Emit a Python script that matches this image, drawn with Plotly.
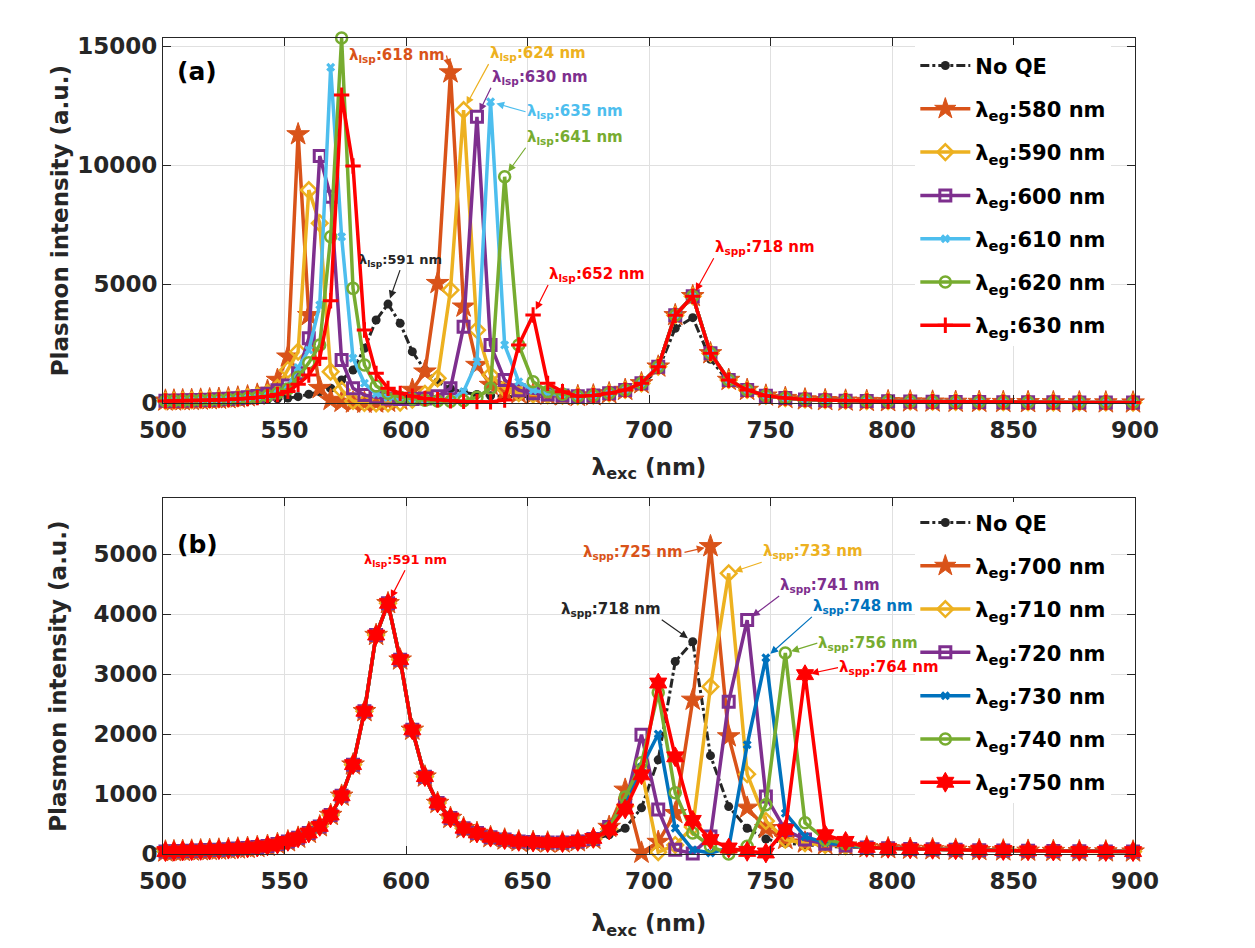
import plotly.graph_objects as go

# excitation wavelength grid (nm)
wl = [501.0, 504.5, 508.1, 511.8, 515.5, 519.2, 523.0, 526.9, 530.8, 534.8,
      538.8, 543.0, 547.1, 551.4, 555.6, 560.0, 564.5, 569.0, 573.5, 578.2,
      582.9, 587.7, 592.6, 597.6, 602.6, 607.8, 613.0, 618.3, 623.7, 629.2,
      634.8, 640.6, 646.4, 652.3, 658.3, 664.4, 670.7, 677.1, 683.6, 690.2,
      696.9, 703.8, 710.8, 718.0, 725.3, 732.8, 740.4, 748.1, 756.1, 764.2,
      772.5, 780.9, 789.6, 798.4, 807.5, 816.7, 826.2, 835.9, 845.8, 856.0,
      866.4, 877.1, 888.0, 899.2]

# ---- panel (a): QE tuned around the LSP resonance ----
a_noqe = [60, 65, 70, 75, 80, 88, 95, 105, 115, 130, 145,
          165, 190, 220, 280, 380, 480, 630, 980, 1400, 2310, 3500, 4170, 3360, 2170,
          1400, 900, 620, 460, 370, 320, 290, 280, 280, 290, 300,
          290, 320, 400, 540, 800, 1400, 3150, 3600, 1850, 900, 520, 300, 210, 150,
          120, 100, 88, 78, 70, 62, 56, 50, 46, 42, 38, 35, 32, 30]

# common SPP part (670-900 nm), same for every QE case
a_tail = [300, 330, 420, 560, 840, 1540, 3700, 4500, 2100, 980, 560, 320, 220, 160,
          130, 110, 95, 85, 75, 68, 60, 55, 50, 45, 42, 38, 35, 32]

a_580 = [110, 115, 125, 135, 150, 165, 185, 210, 240, 290, 360,
         520, 980, 1960, 11300, 3700, 640, 140, 60, 30, 20, 30, 60, 150, 560,
         1330, 5050, 13900, 4060, 1610, 770, 500, 420, 380, 360, 330] + a_tail
a_590 = [105, 110, 118, 128, 140, 155, 170, 190, 220, 260, 320,
         430, 650, 1400, 2170, 8960, 7570, 1330, 560, 100, 20, 0, 0, 30, 150,
         400, 1050, 4760, 12320, 3080, 1190, 620, 430, 370, 340, 320] + a_tail
a_600 = [105, 110, 118, 128, 140, 152, 168, 188, 215, 255, 310,
         400, 550, 750, 1260, 2730, 10390, 8680, 1820, 630, 350, 250, 200, 180, 180,
         200, 300, 630, 3220, 12040, 2450, 980, 550, 420, 370, 330] + a_tail
a_610 = [100, 105, 112, 120, 130, 142, 156, 175, 200, 235, 280,
         350, 480, 700, 1500, 2240, 4130, 14120, 7000, 1890, 840, 400, 250, 180, 140,
         120, 110, 130, 500, 1750, 12670, 2450, 910, 550, 420, 350] + a_tail
a_620 = [100, 104, 110, 118, 127, 138, 150, 168, 190, 220, 260,
         320, 420, 600, 1100, 1700, 2450, 7000, 15350, 4830, 1610, 730, 420, 260, 180,
         130, 100, 90, 110, 250, 630, 9520, 2450, 910, 500, 380] + a_tail
a_630 = [95, 100, 105, 112, 120, 130, 142, 158, 178, 205, 240,
         290, 370, 500, 800, 1190, 1890, 4310, 12950, 9970, 3080, 1260, 630, 420, 300,
         200, 150, 110, 80, 70, 60, 140, 2450, 3710, 840, 490] + a_tail

# ---- panel (b): QE tuned around the SPP resonance ----
# common LSP part (500-665 nm)
b_lsp = [40, 45, 50, 55, 60, 65, 72, 80, 90, 100, 115,
         135, 165, 210, 270, 350, 460, 650, 970, 1490, 2380, 3650, 4180, 3240, 2070,
         1290, 850, 600, 430, 350, 280, 240, 210, 200, 190, 190]
b_tail = [110, 95, 85, 78, 70, 64, 58, 53, 49, 45, 42, 40]

b_noqe = b_lsp + [200, 240, 320, 430, 770, 1570, 3210, 3540, 1640, 790, 430, 250,
                  180, 150, 130, 115] + b_tail
b_700 = b_lsp + [210, 250, 450, 1070, 20, 200, 680, 2570, 5130, 1960, 770, 430,
                 250, 190, 160, 140] + b_tail
b_710 = b_lsp + [210, 250, 420, 800, 1400, 30, 150, 450, 2790, 4680, 1330, 550,
                 240, 180, 150, 130] + b_tail
b_720 = b_lsp + [210, 250, 450, 800, 1990, 740, 70, 10, 290, 2540, 3900, 960,
                 400, 240, 170, 140] + b_tail
b_730 = b_lsp + [210, 250, 430, 800, 1450, 2000, 430, 70, 15, 100, 1820, 3270,
                 680, 290, 190, 150] + b_tail
b_740 = b_lsp + [210, 250, 430, 950, 1520, 2690, 1020, 350, 130, 0, 130, 820,
                 3350, 520, 240, 170] + b_tail
b_750 = b_lsp + [210, 260, 400, 750, 1320, 2850, 1620, 560, 240, 100, 44, 17,
                 405, 2990, 320, 210] + b_tail

FONT = "DejaVu Sans"
BLACK = "#262626"
ORANGE = "#D95319"
YELLOW = "#EDB120"
PURPLE = "#7E2F8E"
SKY = "#4DBEEE"
GREEN = "#77AC30"
RED = "#FF0000"
BLUE = "#0072BD"

fig = go.Figure()


def curve(y, name, color, symbol, size, xa, ya, leg, dash="solid", mlw=0):
    fig.add_trace(go.Scatter(
        x=wl, y=y, name=name, mode="lines+markers",
        line=dict(color=color, width=3 if dash != "solid" else 3.5, dash=dash),
        marker=dict(symbol=symbol, size=size, color=color,
                    line=dict(color=color, width=mlw)),
        xaxis=xa, yaxis=ya, legend=leg, legendgroup=leg + name,
        cliponaxis=False))


def eg(v):
    return "λ<sub>eg</sub>:%d nm" % v


curve(a_noqe, "No QE", BLACK, "circle", 9, "x", "y", "legend", dash="dashdot")
curve(a_580, eg(580), ORANGE, "star", 17, "x", "y", "legend", mlw=1)
curve(a_590, eg(590), YELLOW, "diamond-open", 12, "x", "y", "legend", mlw=2.5)
curve(a_600, eg(600), PURPLE, "square-open", 11, "x", "y", "legend", mlw=3)
curve(a_610, eg(610), SKY, "x", 8, "x", "y", "legend")
curve(a_620, eg(620), GREEN, "circle-open", 11, "x", "y", "legend", mlw=2.5)
curve(a_630, eg(630), RED, "cross-thin-open", 11, "x", "y", "legend", mlw=3)

curve(b_noqe, "No QE", BLACK, "circle", 9, "x2", "y2", "legend2", dash="dashdot")
curve(b_700, eg(700), ORANGE, "star", 17, "x2", "y2", "legend2", mlw=1)
curve(b_710, eg(710), YELLOW, "diamond-open", 12, "x2", "y2", "legend2", mlw=2.5)
curve(b_720, eg(720), PURPLE, "square-open", 11, "x2", "y2", "legend2", mlw=3)
curve(b_730, eg(730), BLUE, "x", 8, "x2", "y2", "legend2")
curve(b_740, eg(740), GREEN, "circle-open", 11, "x2", "y2", "legend2", mlw=2.5)
curve(b_750, eg(750), RED, "hexagram", 15, "x2", "y2", "legend2", mlw=1)

# peak labels: (text, series, index, colour, axes, ax, ay, xanchor, yanchor, size)
peak_notes = [
    ("λ<sub>lsp</sub>:618 nm", a_580, 27, ORANGE, "", -4, -17, "right", "middle", 15),
    ("λ<sub>lsp</sub>:624 nm", a_590, 28, YELLOW, "", 25, -46, "left", "bottom", 15),
    ("λ<sub>lsp</sub>:630 nm", a_600, 29, PURPLE, "", 14, -29, "left", "bottom", 15),
    ("λ<sub>lsp</sub>:635 nm", a_610, 30, SKY, "", 35, 10, "left", "middle", 15),
    ("λ<sub>lsp</sub>:641 nm", a_620, 31, GREEN, "", 21, -29, "left", "bottom", 15),
    ("λ<sub>lsp</sub>:591 nm", a_noqe, 22, BLACK, "", 12, -34, "center", "bottom", 13),
    ("λ<sub>lsp</sub>:652 nm", a_630, 33, RED, "", 15, -30, "left", "bottom", 15),
    ("λ<sub>spp</sub>:718 nm", a_630, 43, RED, "", 21, -38, "left", "bottom", 15),
    ("λ<sub>lsp</sub>:591 nm", b_750, 22, RED, "2", 17, -33, "center", "bottom", 13),
    ("λ<sub>spp</sub>:725 nm", b_700, 44, ORANGE, "2", -26, 6, "right", "middle", 15),
    ("λ<sub>spp</sub>:733 nm", b_710, 45, YELLOW, "2", 33, -11, "left", "bottom", 15),
    ("λ<sub>spp</sub>:741 nm", b_720, 46, PURPLE, "2", 32, -24, "left", "bottom", 15),
    ("λ<sub>spp</sub>:748 nm", b_730, 47, BLUE, "2", 46, -41, "left", "bottom", 15),
    ("λ<sub>spp</sub>:756 nm", b_740, 48, GREEN, "2", 32, -10, "left", "middle", 15),
    ("λ<sub>spp</sub>:764 nm", b_750, 49, RED, "2", 33, -7, "left", "middle", 15),
    ("λ<sub>spp</sub>:718 nm", b_noqe, 43, BLACK, "2", -31, -22, "right", "bottom", 15),
]

for text, ser, i, col, n, ax, ay, xan, yan, fs in peak_notes:
    fig.add_annotation(
        x=wl[i], y=ser[i], xref="x" + n, yref="y" + n, text=text,
        showarrow=True, ax=ax, ay=ay, xanchor=xan, yanchor=yan,
        arrowhead=2, arrowsize=1.3, arrowwidth=1.2, arrowcolor=col, standoff=6,
        borderpad=0, font=dict(family=FONT, size=fs, color=col, weight="bold"))

for lab, n, yy in [("(a)", "", 0.907), ("(b)", "2", 0.869)]:
    fig.add_annotation(x=0.012, y=yy, xref="x%s domain" % n, yref="y%s domain" % n,
                       text=lab, showarrow=False, xanchor="left", yanchor="middle",
                       font=dict(family=FONT, size=25, color="black", weight="bold"))

tick_font = dict(family=FONT, size=23, color=BLACK, weight="bold")
title_font = dict(family=FONT, size=23, color=BLACK, weight="bold")
axis_style = dict(showline=True, linecolor=BLACK, linewidth=1, mirror="ticks",
                  ticks="inside", ticklen=8, tickcolor=BLACK, showgrid=True,
                  gridcolor="#e0e0e0", zeroline=False, tickfont=tick_font,
                  tickformat="d")

xstyle = dict(axis_style, range=[500, 900], tick0=500, dtick=50, ticklabelstandoff=6)

legend_style = dict(x=0.774, xanchor="left", yanchor="top", bgcolor="white",
                    borderwidth=0, tracegroupgap=13, itemwidth=50,
                    font=dict(family=FONT, size=21, color="black", weight="bold"))

fig.update_layout(
    width=1255, height=948, plot_bgcolor="white", paper_bgcolor="white",
    margin=dict(l=155, r=128, t=30, b=102), showlegend=True,
    xaxis=dict(xstyle, domain=[0, 1], anchor="y",
               title=dict(text="λ<sub>exc</sub> (nm)", font=title_font, standoff=16)),
    yaxis=dict(axis_style, domain=[0.5523, 1], anchor="x", range=[0, 15350], dtick=5000,
               title=dict(text="Plasmon intensity (a.u.)", font=title_font, standoff=2)),
    xaxis2=dict(xstyle, domain=[0, 1], anchor="y2",
                title=dict(text="λ<sub>exc</sub> (nm)", font=title_font, standoff=22)),
    yaxis2=dict(axis_style, domain=[0, 0.4359], anchor="x2", range=[0, 5930], dtick=1000,
                title=dict(text="Plasmon intensity (a.u.)", font=title_font, standoff=20)),
    legend=dict(legend_style, y=0.991),
    legend2=dict(legend_style, y=0.431),
)

fig.write_html("out.html")
